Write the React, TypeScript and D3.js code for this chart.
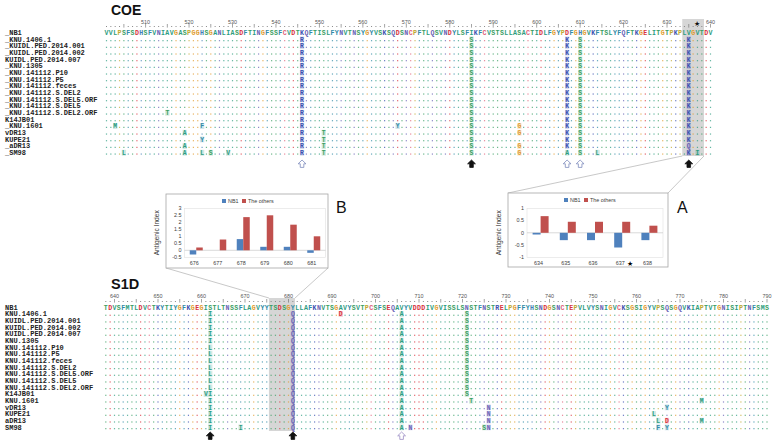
import React from 'react';
import * as d3 from 'd3';

// ---------- data ----------
const coeLabels = ['_NB1', '_KNU.1406.1', '_KUIDL.PED.2014.001', '_KUIDL.PED.2014.002', 'KUIDL.PED.2014.007', '_KNU.1305', '_KNU.141112.P10', '_KNU.141112.P5', '_KNU.141112.feces', '_KNU.141112.S.DEL2', '_KNU.141112.S.DEL5.ORF', '_KNU.141112.S.DEL5', '_KNU.141112.S.DEL2.ORF', 'K14JB01', '_KNU.1601', 'vDR13', 'KUPE21', '_aDR13', '_SM98'];
const s1dLabels = ['NB1', 'KNU.1406.1', 'KUIDL.PED.2014.001', 'KUIDL.PED.2014.002', 'KUIDL.PED.2014.007', 'KNU.1305', 'KNU.141112.P10', 'KNU.141112.P5', 'KNU.141112.feces', 'KNU.141112.S.DEL2', 'KNU.141112.S.DEL5.ORF', 'KNU.141112.S.DEL5', 'KNU.141112.S.DEL2.ORF', 'K14JB01', 'KNU.1601', 'vDR13', 'KUPE21', 'aDR13', 'SM98'];

const coeStart = 501;
const coeRef = 'VVLPSFSDHS' + 'FVNIAVGASP' + 'GGHSGANLIA' + 'SDFTINGFSS' + 'FCVDTKQFTI' + 'SLFYNVTNSY' + 'GYVSKSQDSN' + 'CPFTLQSVND' + 'YLSFIKFCVS' + 'TSLLASACTI' + 'DLFGYPDFGH' + 'GVKFTSLYFQ' + 'FTKGELITGT' + 'PKPLVGVTDV';
const s1dStart = 638;
const s1dRef = 'TDVSFMTLDV' + 'CTKYTIYGFK' + 'GEGISTLTNS' + 'SFLAGVYYTS' + 'DSGYLLAFKN' + 'VTSGAVYSVT' + 'PCSFSEQAVY' + 'VDDDIVGVIS' + 'SLSNSTFNST' + 'RELPGFFYHS' + 'NDGSNCTEPV' + 'LVYSNIGVCK' + 'SGSIGYVPSQ' + 'SGQVKIAPTV' + 'TGNISIPTNF' + 'SMS';

const coeTicks = [510, 520, 530, 540, 550, 560, 570, 580, 590, 600, 610, 620, 630, 640];
const s1dTicks = [640, 650, 660, 670, 680, 690, 700, 710, 720, 730, 740, 750, 760, 770, 780, 790];

const coeSubs = [
  { pos: 546, aa: 'R', rows: d3.range(1, 19) },
  { pos: 585, aa: 'S', rows: d3.range(1, 19) },
  { pos: 607, aa: 'K', rows: d3.range(1, 18) },
  { pos: 607, aa: 'A', rows: [18] },
  { pos: 610, aa: 'S', rows: d3.range(1, 19) },
  { pos: 635, aa: 'K', rows: [...d3.range(1, 17), 18] },
  { pos: 635, aa: 'Q', rows: [17] },
  { pos: 515, aa: 'T', rows: [12] },
  { pos: 503, aa: 'M', rows: [14] },
  { pos: 523, aa: 'F', rows: [14] },
  { pos: 568, aa: 'Y', rows: [14] },
  { pos: 596, aa: 'G', rows: [14, 15, 17, 18] },
  { pos: 519, aa: 'A', rows: [15, 17, 18] },
  { pos: 551, aa: 'T', rows: [15, 16, 17, 18] },
  { pos: 523, aa: 'Y', rows: [16] },
  { pos: 505, aa: 'L', rows: [18] },
  { pos: 523, aa: 'L', rows: [18] },
  { pos: 525, aa: 'S', rows: [18] },
  { pos: 529, aa: 'V', rows: [18] },
  { pos: 614, aa: 'L', rows: [18] },
  { pos: 637, aa: 'I', rows: [18] },
];
const s1dSubs = [
  { pos: 662, aa: 'I', rows: [1, 2, 3, 4, 5, 13, 14, 15, 16, 17, 18] },
  { pos: 662, aa: 'L', rows: d3.range(6, 13) },
  { pos: 661, aa: 'V', rows: [13] },
  { pos: 681, aa: 'Q', rows: d3.range(1, 19) },
  { pos: 706, aa: 'A', rows: d3.range(1, 19) },
  { pos: 721, aa: 'S', rows: d3.range(1, 14) },
  { pos: 692, aa: 'D', rows: [1] },
  { pos: 669, aa: 'I', rows: [18] },
  { pos: 708, aa: 'N', rows: [18] },
  { pos: 722, aa: 'T', rows: [14] },
  { pos: 726, aa: 'N', rows: [15, 16, 17, 18] },
  { pos: 725, aa: 'S', rows: [18] },
  { pos: 775, aa: 'M', rows: [14, 17] },
  { pos: 767, aa: 'Y', rows: [15, 18] },
  { pos: 764, aa: 'L', rows: [16] },
  { pos: 765, aa: 'L', rows: [17] },
  { pos: 767, aa: 'D', rows: [17] },
  { pos: 765, aa: 'F', rows: [18] },
];
const coeArrows = [
  { pos: 546, filled: false }, { pos: 585, filled: true }, { pos: 607, filled: false },
  { pos: 610, filled: false }, { pos: 635, filled: true },
];
const s1dArrows = [
  { pos: 662, filled: true }, { pos: 681, filled: true }, { pos: 706, filled: false },
];
const coeWindow = [634, 638];
const s1dWindow = [676, 681];
const coeStarPos = 637;

// inset A (COE 634-638)
const catsA = ['634', '635', '636', '637', '638'];
const nb1A = [-0.07, -0.3, -0.3, -0.6, -0.3];
const othersA = [0.68, 0.45, 0.45, 0.45, 0.29];
const ticksA = [-1, -0.5, 0, 0.5, 1];
// inset B (S1D 676-681)
const catsB = ['676', '677', '678', '679', '680', '681'];
const nb1B = [-0.3, 0, 0.8, 0.25, 0.25, -0.18];
const othersB = [0.2, 0.77, 2.37, 2.5, 1.83, 1.0];
const ticksB = [-0.5, 0, 0.5, 1, 1.5, 2, 2.5, 3];
const seriesNames = ['NB1', 'The others'];

// ---------- styles ----------
const BLUE = '#4f81bd';
const RED = '#c0504d';
const MONO = '"Liberation Mono", "DejaVu Sans Mono", monospace';
const SANS = '"Liberation Sans", Arial, sans-serif';

function aaColor(a: string): string {
  if ('AVILM'.includes(a)) return '#2c9c80';
  if ('FWY'.includes(a)) return '#2f8aa6';
  if (a === 'G') return '#e09a2c';
  if (a === 'P') return '#c0a830';
  if ('DE'.includes(a)) return '#d8323c';
  if ('KR'.includes(a)) return '#3a4fb0';
  if (a === 'H') return '#3f7fb5';
  if ('ST'.includes(a)) return '#3a9e62';
  if ('NQ'.includes(a)) return '#6660b4';
  if (a === 'C') return '#e0607a';
  return '#333';
}

function arrowPath(cx: number, top: number) {
  return `M${cx},${top} L${cx + 3.9},${top + 3.8} L${cx + 1.8},${top + 3.8} L${cx + 1.8},${top + 7.4} L${cx - 1.8},${top + 7.4} L${cx - 1.8},${top + 3.8} L${cx - 3.9},${top + 3.8} Z`;
}

type Sub = { pos: number; aa: string; rows: number[] };

function Alignment(props: {
  labels: string[]; seq: string; start: number; x: d3.ScaleLinear<number, number>;
  rowY0: number; rowH: number; ticks: number[]; numY: number; tickY: number;
  subs: Sub[]; win: number[]; winTop: number; winBottom: number;
  arrows: { pos: number; filled: boolean }[]; arrowTop: number; openStroke: string;
}) {
  const { labels, seq, start, x, rowY0, rowH, ticks, numY, tickY, subs, win, winTop, winBottom, arrows, arrowTop, openStroke } = props;
  const cw = x(start + 1) - x(start);
  const positions = d3.range(start, start + seq.length);
  const subMap = new Map<string, string>();
  subs.forEach((s) => s.rows.forEach((r) => subMap.set(`${r}-${s.pos}`, s.aa)));
  const ry = (i: number) => rowY0 + i * rowH;
  return (
    <g>
      <rect x={x(win[0]) - cw / 2} y={winTop} width={x(win[1]) - x(win[0]) + cw} height={winBottom - winTop} fill="#d6d6d6" />
      {ticks.map((t) => (
        <text key={'n' + t} x={x(t)} y={numY + 2} textAnchor="middle" fontSize={5.4} fontFamily={SANS} fill="#555">{t}</text>
      ))}
      {positions.map((p) => (p % 5 === 0
        ? <line key={'t' + p} x1={x(p)} x2={x(p)} y1={tickY - 2} y2={tickY + 1.6} stroke="#666" strokeWidth={0.6} />
        : <rect key={'t' + p} x={x(p) - 0.5} y={tickY} width={1} height={1} fill="#888" />))}
      {labels.map((l, i) => (
        <text key={'l' + i} x={5} y={ry(i) + 2.4} fontSize={7} fontWeight="bold" fontFamily={MONO} fill="#222">{l}</text>
      ))}
      {positions.map((p, j) => (
        <text key={'s' + p} x={x(p)} y={ry(0) + 2.3} textAnchor="middle" fontSize={6.6} fontWeight="bold" fontFamily={MONO} fill={aaColor(seq[j])}>{seq[j]}</text>
      ))}
      {labels.slice(1).map((_, k) => {
        const r = k + 1;
        return positions.map((p, j) => {
          const aa = subMap.get(`${r}-${p}`);
          if (aa) {
            const c = aaColor(aa);
            return (
              <g key={`d${r}-${p}`}>
                <rect x={x(p) - cw / 2} y={ry(r) - 2.9} width={cw} height={5.8} fill={c} opacity={0.22} />
                <text x={x(p)} y={ry(r) + 2.3} textAnchor="middle" fontSize={6.4} fontWeight="bold" fontFamily={MONO} fill={c}>{aa}</text>
              </g>
            );
          }
          return <rect key={`d${r}-${p}`} x={x(p) - 0.6} y={ry(r) + 0.7} width={1.2} height={1.2} fill={aaColor(seq[j])} opacity={0.75} />;
        });
      })}
      {arrows.map((a) => (
        <path key={'a' + a.pos} d={arrowPath(x(a.pos), arrowTop)} fill={a.filled ? '#111' : '#fff'} stroke={a.filled ? '#111' : openStroke} strokeWidth={0.8} />
      ))}
    </g>
  );
}

function Inset(props: {
  box: { x: number; y: number; w: number; h: number }; plot: { x0: number; x1: number; y0: number; y1: number };
  cats: string[]; nb1: number[]; others: number[]; yDomain: [number, number]; yTicks: number[];
  barW: number; yLabelX: number; legendX: number; starCat?: string;
}) {
  const { box, plot, cats, nb1, others, yDomain, yTicks, barW, yLabelX, legendX, starCat } = props;
  const xb = d3.scaleBand().domain(cats).range([plot.x0, plot.x1]);
  const y = d3.scaleLinear().domain(yDomain).range([plot.y1, plot.y0]);
  const cx = (c: string) => (xb(c) as number) + xb.bandwidth() / 2;
  const legY = box.y + 7;
  return (
    <g>
      <rect x={box.x} y={box.y} width={box.w} height={box.h} fill="#fff" stroke="#a6a6a6" strokeWidth={0.8} />
      <rect x={plot.x0} y={plot.y0} width={plot.x1 - plot.x0} height={plot.y1 - plot.y0} fill="none" stroke="#e0e0e0" strokeWidth={0.6} />
      <line x1={plot.x0} x2={plot.x1} y1={y(0)} y2={y(0)} stroke="#c8c8c8" strokeWidth={0.7} />
      {yTicks.map((t) => (
        <text key={t} x={plot.x0 - 3} y={y(t) + 1.9} textAnchor="end" fontSize={5.4} fontFamily={SANS} fill="#404040">{t}</text>
      ))}
      {cats.map((c, i) => (
        <g key={c}>
          <rect x={cx(c) - barW} y={Math.min(y(0), y(nb1[i]))} width={barW} height={Math.abs(y(nb1[i]) - y(0))} fill={BLUE} />
          <rect x={cx(c)} y={Math.min(y(0), y(others[i]))} width={barW} height={Math.abs(y(others[i]) - y(0))} fill={RED} />
          <text x={cx(c) - 2} y={plot.y1 + 8} textAnchor="middle" fontSize={5.4} fontFamily={SANS} fill="#404040">{c}</text>
          {starCat === c && <text x={cx(c) + 8} y={plot.y1 + 8.6} textAnchor="middle" fontSize={7} fontFamily={SANS} fill="#000">★</text>}
        </g>
      ))}
      <rect x={legendX} y={legY - 2} width={4} height={4} fill={BLUE} />
      <text x={legendX + 6} y={legY + 1.9} fontSize={5.4} fontFamily={SANS} fill="#404040">{seriesNames[0]}</text>
      <rect x={legendX + 20} y={legY - 2} width={4} height={4} fill={RED} />
      <text x={legendX + 26} y={legY + 1.9} fontSize={5.4} fontFamily={SANS} fill="#404040">{seriesNames[1]}</text>
      <text transform={`translate(${yLabelX},${(plot.y0 + plot.y1) / 2}) rotate(-90)`} textAnchor="middle" fontSize={6.6} fontFamily={SANS} fill="#333">Antigenic Index</text>
    </g>
  );
}

export default function App() {
  const xC = d3.scaleLinear().domain([coeStart, coeStart + coeRef.length - 1]).range([106.5, 710.5]);
  const xS = d3.scaleLinear().domain([s1dStart, s1dStart + s1dRef.length - 1]).range([105.8, 105.8 + (s1dRef.length - 1) * 4.35]);
  const cw = 4.345;
  const coeWinL = xC(coeWindow[0]) - cw / 2;
  const coeWinR = xC(coeWindow[1]) + cw / 2;
  const s1dWinL = xS(s1dWindow[0]) - cw / 2;
  const s1dWinR = xS(s1dWindow[1]) + cw / 2;
  return (
    <svg width={775} height={443} style={{ position: 'absolute', left: 0, top: 0, background: '#fff' }}>
      <text x={111} y={15} fontSize={14} fontWeight="bold" fontFamily={SANS} fill="#111">COE</text>
      <text x={111} y={289} fontSize={14.5} fontWeight="bold" fontFamily={SANS} fill="#111">S1D</text>
      <Alignment labels={coeLabels} seq={coeRef} start={coeStart} x={xC} rowY0={32.7} rowH={6.67}
        ticks={coeTicks} numY={21.5} tickY={26} subs={coeSubs} win={coeWindow} winTop={19} winBottom={156}
        arrows={coeArrows} arrowTop={160} openStroke="#7d8bbd" />
      <text x={xC(coeStarPos)} y={26} textAnchor="middle" fontSize={7} fontFamily={SANS} fill="#111">★</text>
      <Alignment labels={s1dLabels} seq={s1dRef} start={s1dStart} x={xS} rowY0={307.3} rowH={6.67}
        ticks={s1dTicks} numY={296} tickY={301} subs={s1dSubs} win={s1dWindow} winTop={298} winBottom={431}
        arrows={s1dArrows} arrowTop={432} openStroke="#9a8cc4" />
      {/* zoom connector lines */}
      <line x1={coeWinL} y1={156} x2={508} y2={193} stroke="#b0b0b0" strokeWidth={0.7} />
      <line x1={coeWinR} y1={156} x2={668} y2={193} stroke="#b0b0b0" strokeWidth={0.7} />
      <line x1={166} y1={268} x2={s1dWinL} y2={298} stroke="#b0b0b0" strokeWidth={0.7} />
      <line x1={328} y1={268} x2={s1dWinR} y2={298} stroke="#b0b0b0" strokeWidth={0.7} />
      <Inset box={{ x: 166, y: 194, w: 162, h: 74 }} plot={{ x0: 184.5, x1: 325.5, y0: 208.3, y1: 257.3 }}
        cats={catsB} nb1={nb1B} others={othersB} yDomain={[-0.5, 3]} yTicks={ticksB} barW={6.5}
        yLabelX={159} legendX={222} />
      <Inset box={{ x: 508, y: 193, w: 160, h: 74 }} plot={{ x0: 527, x1: 663, y0: 208.3, y1: 257.3 }}
        cats={catsA} nb1={nb1A} others={othersA} yDomain={[-1, 1]} yTicks={ticksA} barW={8}
        yLabelX={501} legendX={564} starCat="637" />
      <text x={336} y={213} fontSize={16} fontFamily={SANS} fill="#111">B</text>
      <text x={677} y={213} fontSize={16} fontFamily={SANS} fill="#111">A</text>
    </svg>
  );
}
